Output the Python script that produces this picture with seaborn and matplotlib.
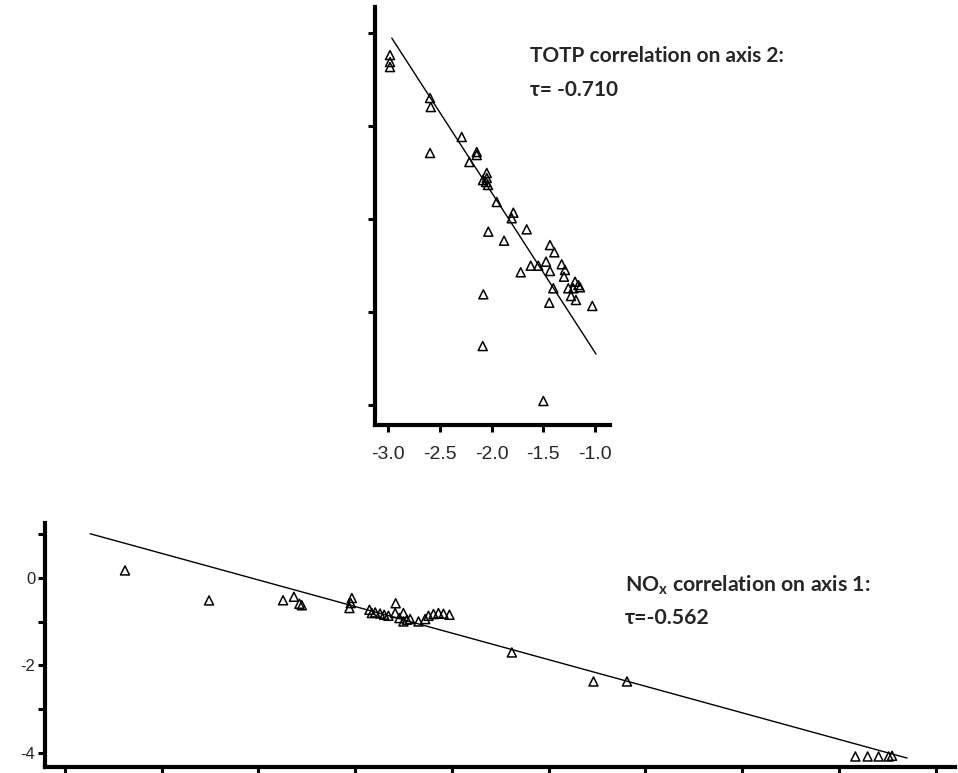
import matplotlib
matplotlib.use("Agg")
import matplotlib.pyplot as plt
import seaborn as sns
import pandas as pd

# ---------------- data ----------------
# Top panel: TOTP vs axis 2
totp_x = [-2.981, -2.981, -2.981, -2.594, -2.587, -2.594, -2.288, -2.143, -2.143, -2.214,
          -2.046, -2.046, -2.053, -2.034, -2.082, -1.950, -1.789, -1.805, -2.031, -1.660,
          -1.879, -1.435, -1.393, -1.621, -1.548, -1.473, -1.718, -1.435, -1.322, -1.290,
          -1.300, -1.193, -1.161, -1.145, -1.210, -1.258, -1.232, -1.184, -1.403, -1.442,
          -1.026, -2.079, -2.085, -1.499]
totp_y = [1.763, 1.688, 1.634, 1.301, 1.204, 0.710, 0.882, 0.720, 0.688, 0.613,
          0.495, 0.441, 0.398, 0.366, 0.419, 0.183, 0.068, 0.008, -0.136, -0.111,
          -0.233, -0.280, -0.358, -0.502, -0.502, -0.459, -0.573, -0.559, -0.487, -0.548,
          -0.620, -0.674, -0.710, -0.734, -0.745, -0.745, -0.828, -0.871, -0.745, -0.900,
          -0.935, -0.810, -1.366, -1.957]
totp_fit_x = [-2.964, -0.990]
totp_fit_y = [1.946, -1.452]
top_xticks = [-3.0, -2.5, -2.0, -1.5, -1.0]
top_xticklabels = ["-3.0", "-2.5", "-2.0", "-1.5", "-1.0"]
top_yticks = [-2, -1, 0, 1, 2]

# Bottom panel: NOx vs axis 1
nox_x = [0.620, 1.489, 2.254, 2.366, 2.423, 2.448, 2.965, 2.954, 2.940, 3.418,
         3.147, 3.172, 3.206, 3.257, 3.299, 3.343, 3.413, 3.498, 3.457, 3.498,
         3.568, 3.654, 3.723, 3.757, 3.809, 3.860, 3.912, 3.974, 3.534, 4.619,
         5.463, 5.809, 8.170, 8.297, 8.410, 8.514, 8.549]
nox_y = [0.167, -0.518, -0.514, -0.434, -0.594, -0.628, -0.463, -0.578, -0.692, -0.582,
         -0.731, -0.806, -0.792, -0.817, -0.845, -0.868, -0.806, -0.806, -0.920, -0.998,
         -0.943, -0.998, -0.943, -0.868, -0.829, -0.806, -0.822, -0.845, -0.959, -1.705,
         -2.368, -2.368, -4.080, -4.080, -4.080, -4.080, -4.064]
nox_fit_x = [0.259, 8.704]
nox_fit_y = [1.005, -4.116]
bot_xticks = [0, 1, 2, 3, 4, 5, 6, 7, 8, 9]
bot_yticks = [1, 0, -1, -2, -3, -4]
bot_yticklabels = ["", "0", "", "-2", "", "-4"]

top_title = "TOTP correlation on axis 2:"
top_tau = "τ= -0.710"
bot_title = "NO$_{\\mathbf{x}}$ correlation on axis 1:"
bot_tau = "τ=-0.562"

# ---------------- style ----------------
sns.set_theme(style="ticks")
plt.rcParams["font.family"] = ["Liberation Sans", "DejaVu Sans"]
plt.rcParams["axes.unicode_minus"] = False
plt.rcParams["mathtext.fontset"] = "custom"
plt.rcParams["mathtext.bf"] = "Lato:bold"
plt.rcParams["mathtext.rm"] = "Lato"

fig = plt.figure(figsize=(9.58, 7.73), dpi=100)
ax1 = fig.add_axes([375 / 958, 1 - 425 / 773, 235 / 958, 418 / 773])
ax2 = fig.add_axes([45 / 958, 1 - 767 / 773, 910 / 958, 244 / 773])

top_df = pd.DataFrame({"x": totp_x, "y": totp_y})
bot_df = pd.DataFrame({"x": nox_x, "y": nox_y})

marker_kw = dict(marker="^", s=42, facecolor="none", edgecolor="black", linewidth=1.1)

sns.lineplot(x=totp_fit_x, y=totp_fit_y, ax=ax1, color="black", linewidth=1.0)
sns.scatterplot(data=top_df, x="x", y="y", ax=ax1, **marker_kw)
sns.lineplot(x=nox_fit_x, y=nox_fit_y, ax=ax2, color="black", linewidth=1.0)
sns.scatterplot(data=bot_df, x="x", y="y", ax=ax2, **marker_kw)

for ax in (ax1, ax2):
    ax.set_xlabel("")
    ax.set_ylabel("")
    ax.spines["top"].set_visible(False)
    ax.spines["right"].set_visible(False)
    for sp in ("left", "bottom"):
        ax.spines[sp].set_linewidth(3.0)
        ax.spines[sp].set_color("black")
    ax.tick_params(axis="both", which="major", length=5, width=2.2, color="black",
                   direction="out")
    ax.set_facecolor("white")

ax1.set_xlim(-3.126, -0.855)
ax1.set_ylim(-2.215, 2.28)
ax1.set_xticks(top_xticks)
ax1.set_xticklabels(top_xticklabels, fontsize=14)
ax1.set_yticks(top_yticks)
ax1.set_yticklabels([""] * len(top_yticks))
ax1.tick_params(axis="x", pad=10)

ax2.set_xlim(-0.207, 9.2)
ax2.set_ylim(-4.32, 1.25)
ax2.set_xticks(bot_xticks)
ax2.set_xticklabels([""] * len(bot_xticks))
ax2.set_yticks(bot_yticks)
ax2.set_yticklabels(bot_yticklabels, fontsize=12)
ax2.tick_params(axis="y", pad=2)

txt_font = ["Lato", "DejaVu Sans"]
fig.text(530 / 958, 1 - 56 / 773, top_title, fontsize=15, fontweight="bold",
         family=txt_font, va="center", ha="left")
fig.text(530 / 958, 1 - 90 / 773, top_tau, fontsize=15, fontweight="bold",
         family=txt_font, va="center", ha="left")
fig.text(625 / 958, 1 - 585 / 773, bot_title, fontsize=15.3, fontweight="bold",
         family=txt_font, va="center", ha="left")
fig.text(625 / 958, 1 - 618 / 773, bot_tau, fontsize=15.3, fontweight="bold",
         family=txt_font, va="center", ha="left")

fig.savefig("out.png", dpi=100, facecolor="white")
